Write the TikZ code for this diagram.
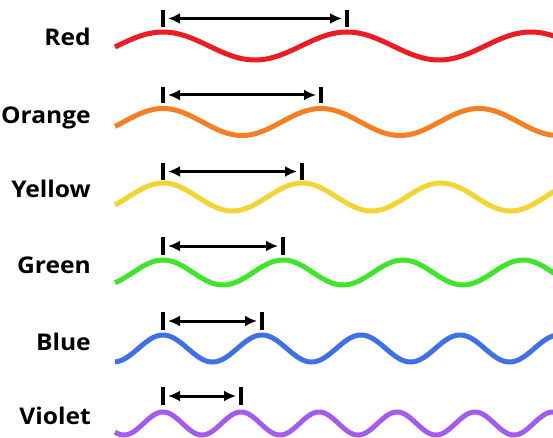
\documentclass[tikz,border=0pt]{standalone}
\usepackage{fontspec}
\setmainfont{Open Sans}
\usetikzlibrary{arrows.meta,calc}
\definecolor{cRed}{RGB}{236,28,36}
\definecolor{cOrange}{RGB}{245,128,36}
\definecolor{cYellow}{RGB}{242,212,52}
\definecolor{cGreen}{RGB}{64,228,44}
\definecolor{cBlue}{RGB}{64,112,230}
\definecolor{cViolet}{RGB}{164,92,240}
\tikzset{
  wave/.style={line width=5pt},
  tickmark/.style={line width=3.5pt, black},
  span/.style={line width=3pt, black, {Latex[length=12pt,width=11pt]}-{Latex[length=12pt,width=11pt]}},
  lab/.style={anchor=base east, inner sep=0pt, xscale=1.07, font=\bfseries\fontsize{23}{26}\selectfont}
}
\begin{document}
\begin{tikzpicture}[x=1pt,y=-1pt]
\useasboundingbox (0,0) rectangle (553,438);
\clip (0,0) rectangle (553,438);
\foreach \nm/\col/\c/\A/\L/\tt/\tb/\bl in {
  Red/cRed/46/14/184/10/27/46,
  Orange/cOrange/122/13.5/158/87/103/124,
  Yellow/cYellow/197/14/139/163/180/197,
  Green/cGreen/272.5/12.5/120/237/255/273,
  Blue/cBlue/348.5/13.5/99/312/330/350,
  Violet/cViolet/423.5/11.5/78/387/405/424}{
  \node[lab] (l\nm) at (91,\bl) {\nm};
  \draw[wave, \col] plot[domain=115:556, samples=300] (\x, {\c - \A*cos((\x-163)/\L*360)});
  \coordinate (a\nm) at (163,\tt);
  \coordinate (b\nm) at (163,\tb);
  \coordinate (c\nm) at ({163+\L},\tt);
  \coordinate (d\nm) at ({163+\L},\tb);
  \draw[tickmark] (a\nm) -- (b\nm);
  \draw[tickmark] (c\nm) -- (d\nm);
  \draw[span] ($(a\nm)!0.5!(b\nm)+(5,0)$) -- ($(c\nm)!0.5!(d\nm)+(-5,0)$);
}
\end{tikzpicture}
\end{document}
